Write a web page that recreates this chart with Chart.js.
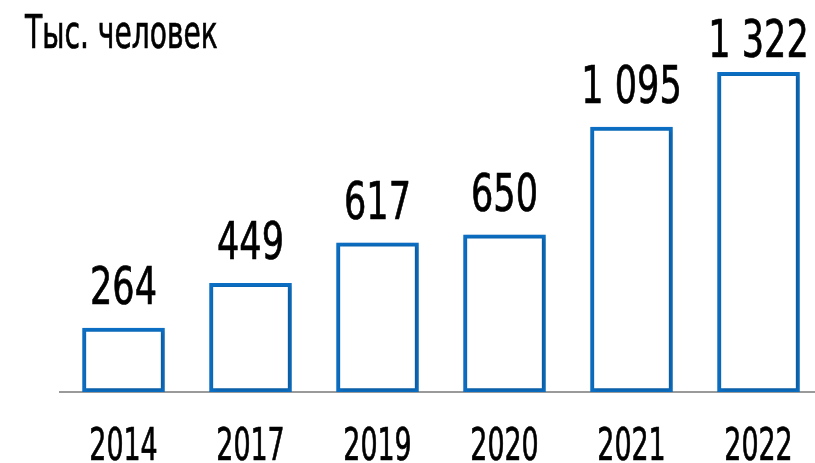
<!DOCTYPE html>
<html>
<head>
<meta charset="utf-8">
<script src="https://cdn.jsdelivr.net/npm/chart.js@4/dist/chart.umd.min.js"></script>
<style>
    html, body { margin: 0; padding: 0; background: #fff; overflow: hidden; }
    #wrap { width: 822px; height: 463px; }
</style>
</head>
<body>
<div id="wrap"><canvas id="chart" width="822" height="463"></canvas></div>
<script>
const years = ['2014', '2017', '2019', '2020', '2021', '2022'];
const thousands = [264, 449, 617, 650, 1095, 1322];
const valueLabels = ['264', '449', '617', '650', '1 095', '1 322'];
const unitTitle = 'Тыс. человек';

const FONT = "'DejaVu Sans Condensed', 'Liberation Sans Narrow', sans-serif";
const BLUE = '#0c6fc4';

// no condensed face installed, so squeeze the text horizontally
// and add a thin outline so the stems keep their weight
function drawNarrow(ctx, text, x, y, squeeze) {
    ctx.save();
    ctx.translate(x, y);
    ctx.scale(squeeze, 1);
    ctx.fillText(text, 0, 0);
    ctx.lineWidth = 0.7;
    ctx.strokeStyle = ctx.fillStyle;
    ctx.strokeText(text, 0, 0);
    ctx.restore();
}

// soft shadow under the bars
const barShadow = {
    id: 'barShadow',
    beforeDatasetsDraw(chart) {
        const ctx = chart.ctx;
        ctx.save();
        ctx.shadowColor = 'rgba(0, 0, 0, 0.28)';
        ctx.shadowBlur = 4;
        ctx.shadowOffsetX = 1;
        ctx.shadowOffsetY = 1;
    },
    afterDatasetsDraw(chart) {
        chart.ctx.restore();
    }
};

// value labels, year labels and unit caption
const textLayer = {
    id: 'textLayer',
    afterDraw(chart) {
        const ctx = chart.ctx;
        const meta = chart.getDatasetMeta(0);
        const xScale = chart.scales.x;
        ctx.save();
        ctx.fillStyle = '#000';
        ctx.textBaseline = 'alphabetic';
        ctx.textAlign = 'center';

        ctx.font = `52px ${FONT}`;
        meta.data.forEach((bar, i) => {
            const y = Math.max(bar.y - 24, chart.chartArea.top + 52);
            drawNarrow(ctx, valueLabels[i], bar.x, y, 0.75);
        });

        ctx.font = `44px ${FONT}`;
        years.forEach((yr, i) => {
            drawNarrow(ctx, xScale.getLabelForValue(i), xScale.getPixelForValue(i), 460, 0.68);
        });

        ctx.font = `46px ${FONT}`;
        ctx.textAlign = 'left';
        drawNarrow(ctx, unitTitle, 25, 48, 0.68);
        ctx.restore();
    }
};

new Chart(document.getElementById('chart'), {
    type: 'bar',
    data: {
        labels: years,
        datasets: [{
            data: thousands,
            backgroundColor: '#ffffff',
            borderColor: BLUE,
            borderWidth: 4,
            borderSkipped: false,
            barThickness: 82
        }]
    },
    options: {
        responsive: false,
        animation: false,
        layout: {
            autoPadding: false,
            padding: { left: 60, right: 0, top: 5, bottom: 0 }
        },
        plugins: {
            legend: { display: false },
            tooltip: { enabled: false }
        },
        scales: {
            x: {
                grid: { display: false, drawTicks: false },
                border: { display: true, color: '#9a9a9a', width: 2 },
                ticks: { display: false },
                afterFit: s => { s.height = 71; }
            },
            y: {
                display: false,
                min: 0,
                max: 1600
            }
        }
    },
    plugins: [barShadow, textLayer]
});
</script>
</body>
</html>
